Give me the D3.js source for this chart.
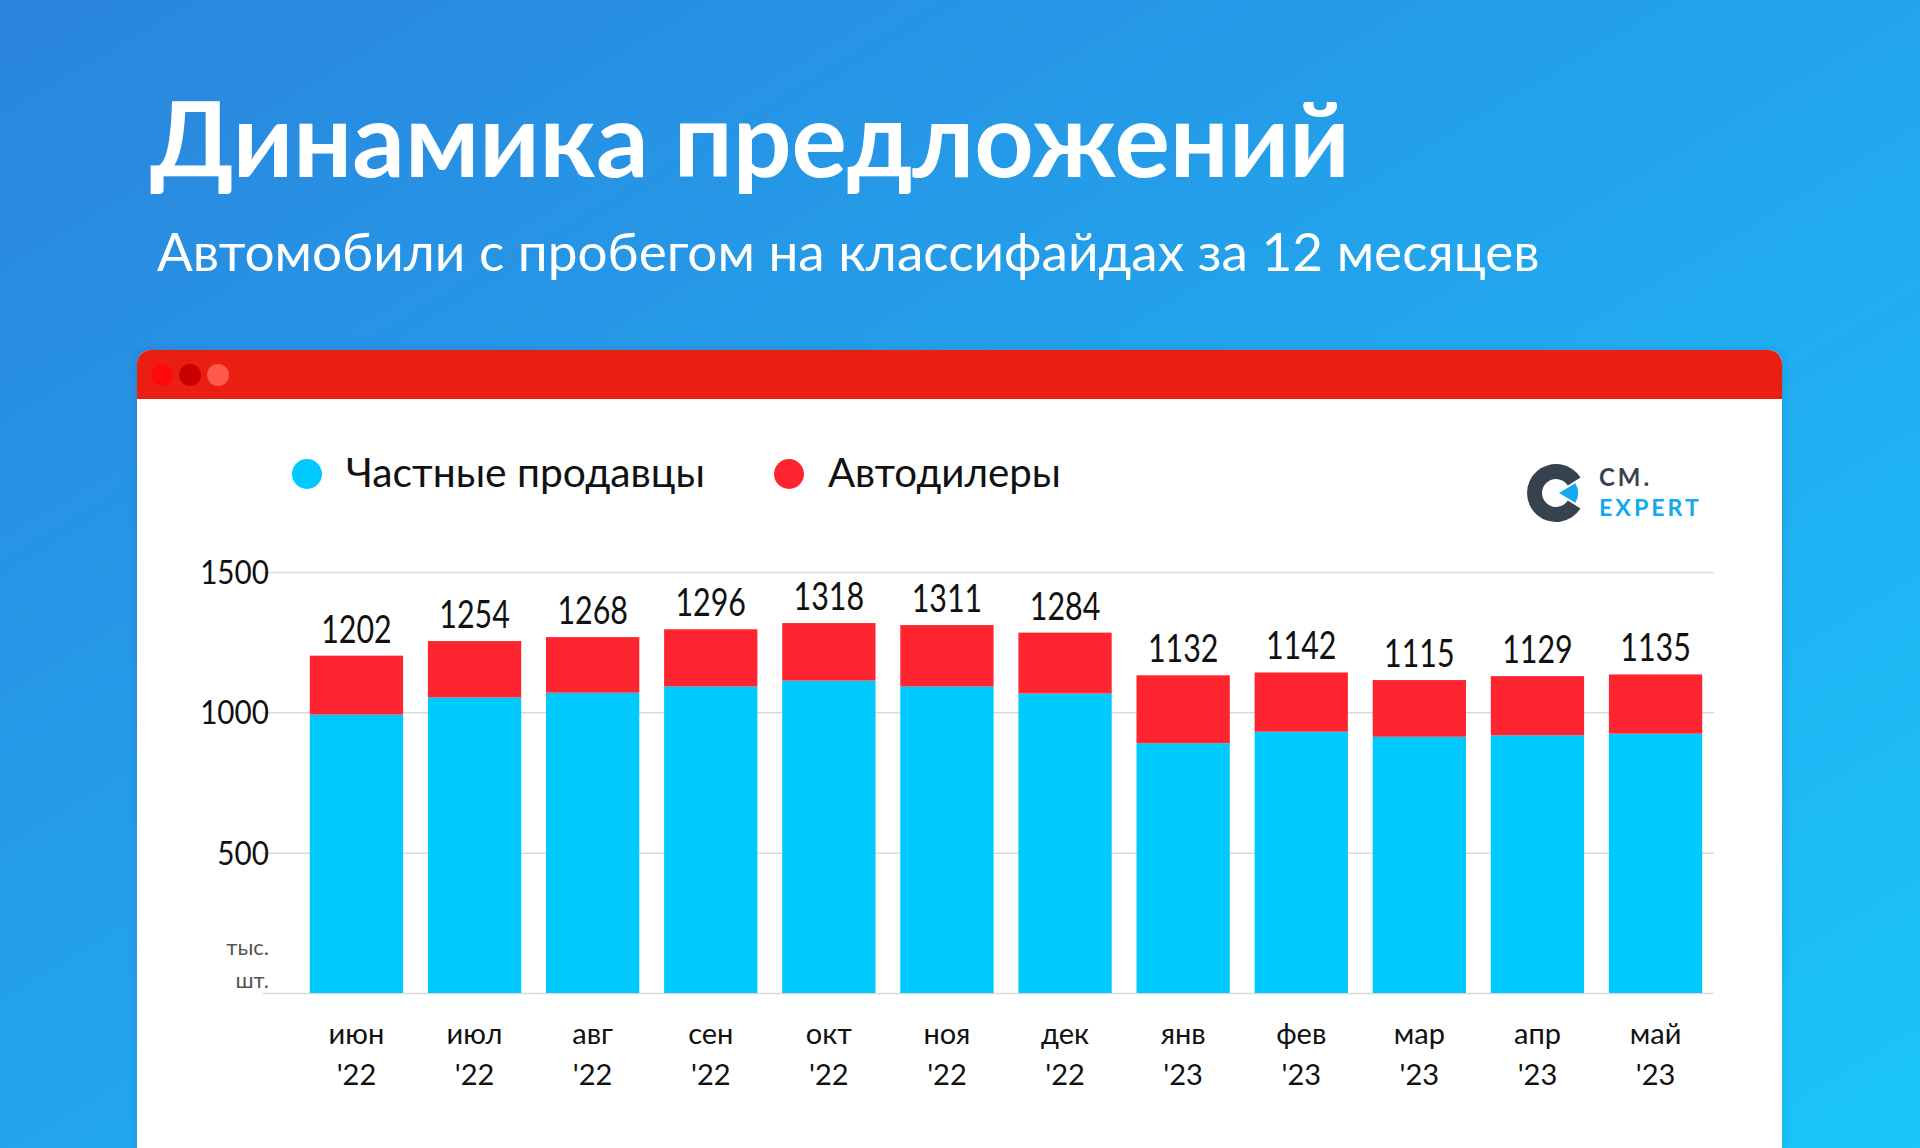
<!DOCTYPE html>
<html>
<head>
<meta charset="utf-8">
<script src="https://cdn.jsdelivr.net/npm/d3@7"></script>
<style>
  html, body { margin: 0; padding: 0; overflow: hidden; }
  svg { display: block; }
</style>
</head>
<body>
<div id="chart"></div>
<script>
// chart data
const months = ['июн', 'июл', 'авг', 'сен', 'окт', 'ноя', 'дек', 'янв', 'фев', 'мар', 'апр', 'май'];
const years = ["'22", "'22", "'22", "'22", "'22", "'22", "'22", "'23", "'23", "'23", "'23", "'23"];
const totals = [1202, 1254, 1268, 1296, 1318, 1311, 1284, 1132, 1142, 1115, 1129, 1135];
const privateSellers = [992, 1053, 1070, 1092, 1113, 1092, 1067, 890, 931, 913, 918, 924];
const dealers = [210, 201, 198, 204, 205, 219, 217, 242, 211, 202, 211, 211];
const yTicks = [500, 1000, 1500];
const seriesNames = ['Частные продавцы', 'Автодилеры'];

const W = 1920, H = 1148;
const FONT = 'Lato, "Open Sans", sans-serif';
const colors = {private: '#00c9fe', dealers: '#ff2530'};

const svg = d3.select('#chart').append('svg')
    .attr('width', W)
    .attr('height', H);

const defs = svg.append('defs');
const bg = defs.append('linearGradient')
    .attr('id', 'bg')
    .attr('x1', '0%').attr('y1', '0%')
    .attr('x2', '100%').attr('y2', '100%');
bg.append('stop').attr('offset', '0%').attr('stop-color', '#2a84dd');
bg.append('stop').attr('offset', '55%').attr('stop-color', '#22a8ee');
bg.append('stop').attr('offset', '100%').attr('stop-color', '#1ac6fb');

const shadow = defs.append('filter').attr('id', 'shadow')
    .attr('x', '-5%').attr('y', '-5%').attr('width', '110%').attr('height', '110%');
shadow.append('feDropShadow')
    .attr('dx', 0).attr('dy', 2).attr('stdDeviation', 5)
    .attr('flood-color', '#0a3c80').attr('flood-opacity', 0.2);

svg.append('rect').attr('width', W).attr('height', H).attr('fill', 'url(#bg)');

// set font size so text spans a given width
function fit(text, width) {
    const fs = parseFloat(text.attr('font-size'));
    const len = text.node().getComputedTextLength();
    text.attr('font-size', fs * width / len);
    return text;
}

// Titles
fit(svg.append('text')
    .attr('x', 150).attr('y', 177)
    .attr('fill', '#fff')
    .attr('font-family', FONT)
    .attr('font-weight', 700)
    .attr('font-size', 100)
    .text('Динамика предложений'), 1200);

fit(svg.append('text')
    .attr('x', 157).attr('y', 271)
    .attr('fill', '#fff')
    .attr('font-family', FONT)
    .attr('font-weight', 400)
    .attr('font-size', 46)
    .text('Автомобили с пробегом на классифайдах за 12 месяцев'), 1383);

// Card window
const card = {x: 137, y: 350, w: 1645, h: 830, r: 14, header: 49};
svg.append('rect')
    .attr('x', card.x).attr('y', card.y)
    .attr('width', card.w).attr('height', card.h)
    .attr('rx', card.r)
    .attr('fill', '#fff')
    .attr('filter', 'url(#shadow)');

svg.append('path')
    .attr('d', `M${card.x},${card.y + card.header}
        V${card.y + card.r} a${card.r},${card.r} 0 0 1 ${card.r},${-card.r}
        H${card.x + card.w - card.r} a${card.r},${card.r} 0 0 1 ${card.r},${card.r}
        V${card.y + card.header} Z`)
    .attr('fill', '#eb1e12');

['#ff0a0a', '#c90000', '#ff5b4b'].forEach((c, i) => {
    svg.append('circle')
        .attr('cx', 162 + i * 28).attr('cy', 375)
        .attr('r', 11)
        .attr('fill', c);
});

// Legend
const legend = svg.append('g');
[[307, colors.private], [789, colors.dealers]].forEach(([x, c], i) => {
    legend.append('circle')
        .attr('cx', x).attr('cy', 474).attr('r', 15)
        .attr('fill', c);
    fit(legend.append('text')
        .attr('x', x + 39).attr('y', 487)
        .attr('fill', '#111')
        .attr('font-family', FONT)
        .attr('font-size', 36)
        .text(seriesNames[i]), i === 0 ? 359 : 233);
});

// Logo
const logo = svg.append('g').attr('transform', 'translate(1556,493)');
logo.append('clipPath').attr('id', 'logoclip')
    .append('rect').attr('x', -40).attr('y', -40).attr('width', 66).attr('height', 80);
const arc = d3.arc()
    .innerRadius(14).outerRadius(29)
    .startAngle(Math.PI * 0.68).endAngle(Math.PI * 2.32);
logo.append('path')
    .attr('d', arc())
    .attr('clip-path', 'url(#logoclip)')
    .attr('fill', '#37424f');
const wedge = d3.arc()
    .innerRadius(0).outerRadius(19)
    .startAngle(Math.PI * 0.33).endAngle(Math.PI * 0.67);
logo.append('path')
    .attr('transform', 'translate(3,0)')
    .attr('d', wedge())
    .attr('fill', '#13a9f2');
fit(logo.append('text')
    .attr('x', 43).attr('y', -7)
    .attr('fill', '#37424f')
    .attr('font-family', FONT)
    .attr('font-weight', 700)
    .attr('font-size', 22)
    .attr('letter-spacing', 3)
    .text('CM.'), 54);
fit(logo.append('text')
    .attr('x', 43).attr('y', 23)
    .attr('fill', '#13a9f2')
    .attr('font-family', FONT)
    .attr('font-weight', 700)
    .attr('font-size', 22)
    .attr('letter-spacing', 3)
    .text('EXPERT'), 104);

// Chart scales
const x = d3.scaleBand()
    .domain(months.map((m, i) => i))
    .range([285, 1727])
    .padding(0.21);

const y = d3.scaleLinear()
    .domain([0, 1500])
    .range([993, 572]);

const grid = svg.append('g');
grid.selectAll('line')
    .data([0, ...yTicks])
    .enter().append('line')
    .attr('x1', 263).attr('x2', 1714)
    .attr('y1', d => y(d) + 0.5).attr('y2', d => y(d) + 0.5)
    .attr('stroke', '#d9d9d9')
    .attr('stroke-width', 1.5);

const yAxis = svg.append('g')
    .attr('transform', 'translate(269,0)')
    .call(d3.axisLeft(y).tickValues(yTicks).tickSize(0).tickPadding(0).tickFormat(d3.format('d')));
yAxis.select('.domain').remove();
yAxis.selectAll('text')
    .attr('font-family', FONT)
    .attr('font-size', 33)
    .attr('fill', '#111')
    .attr('dy', '0.35em')
    .attr('transform-origin', '0px 0px')
    .style('transform', 'scaleX(0.9)');

svg.append('text')
    .attr('x', 269).attr('y', 955)
    .attr('text-anchor', 'end')
    .attr('font-family', FONT)
    .attr('font-size', 22)
    .attr('fill', '#555')
    .text('тыс.');
svg.append('text')
    .attr('x', 269).attr('y', 988)
    .attr('text-anchor', 'end')
    .attr('font-family', FONT)
    .attr('font-size', 22)
    .attr('fill', '#555')
    .text('шт.');

// Stacked bars
const rows = months.map((m, i) => ({i, private: privateSellers[i], dealers: dealers[i]}));
const stack = d3.stack().keys(['private', 'dealers'])(rows);

svg.append('g').selectAll('g')
    .data(stack)
    .enter().append('g')
    .attr('fill', d => colors[d.key])
    .selectAll('rect')
    .data(d => d)
    .enter().append('rect')
    .attr('x', d => x(d.data.i))
    .attr('y', d => y(d[1]))
    .attr('width', x.bandwidth())
    .attr('height', d => y(d[0]) - y(d[1]));

// Total labels
svg.append('g').selectAll('text')
    .data(totals)
    .enter().append('text')
    .attr('x', (d, i) => x(i) + x.bandwidth() / 2)
    .attr('y', (d, i) => y(privateSellers[i] + dealers[i]) - 13)
    .attr('text-anchor', 'middle')
    .attr('font-family', FONT)
    .attr('font-size', 38)
    .attr('fill', '#111')
    .attr('transform-origin', (d, i) => `${x(i) + x.bandwidth() / 2}px 0px`)
    .style('transform', 'scaleX(0.8)')
    .text(d => d);

// X labels
const xAxis = svg.append('g')
    .attr('transform', 'translate(0,993)')
    .call(d3.axisBottom(x).tickSize(0).tickFormat(''));
xAxis.select('.domain').remove();
xAxis.selectAll('.tick').each(function(d) {
    const t = d3.select(this).append('text')
        .attr('text-anchor', 'middle')
        .attr('font-family', FONT)
        .attr('font-size', 29)
        .attr('fill', '#111');
    t.append('tspan').attr('x', 0).attr('y', 51).text(months[d]);
    t.append('tspan').attr('x', 0).attr('y', 92).text(years[d]);
});
</script>
</body>
</html>
